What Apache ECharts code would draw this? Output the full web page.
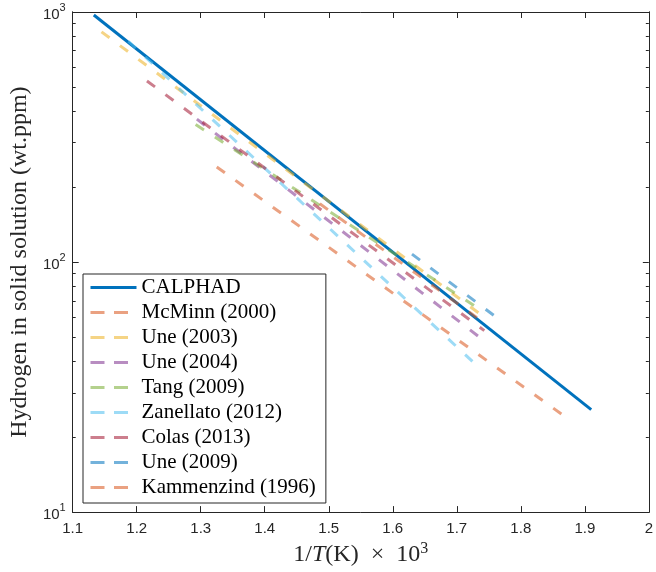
<!DOCTYPE html>
<html><head><meta charset="utf-8">
<script src="https://cdn.jsdelivr.net/npm/echarts@6/dist/echarts.min.js"></script>
<style>html,body{margin:0;padding:0;background:#fff}#c{width:656px;height:572px}</style>
</head><body><div id="c"></div>
<script>
// ---- data ----
const xTickValues = [1.1, 1.2, 1.3, 1.4, 1.5, 1.6, 1.7, 1.8, 1.9, 2.0];
const xTickLabels = ['1.1', '1.2', '1.3', '1.4', '1.5', '1.6', '1.7', '1.8', '1.9', '2'];
const yTickValues = [10, 100, 1000];
const yTickExponents = ['1', '2', '3'];
const yMinorTickValues = [20, 30, 40, 50, 60, 70, 80, 90, 200, 300, 400, 500, 600, 700, 800, 900];

const seriesNames = ['CALPHAD', 'McMinn (2000)', 'Une (2003)', 'Une (2004)', 'Tang (2009)',
  'Zanellato (2012)', 'Colas (2013)', 'Une (2009)', 'Kammenzind (1996)'];
// end points of each line: [1/T(K) x 10^3, wt.ppm]
const calphad = [[1.133, 973], [1.910, 25.7]];
const mcminn2000 = [[1.325, 240], [1.870, 24.0]];
const une2003 = [[1.145, 833], [1.743, 60.2]];
const une2004 = [[1.294, 373], [1.734, 50.4]];
const tang2009 = [[1.292, 355], [1.744, 62.8]];
const zanellato2012 = [[1.187, 764], [1.734, 38.0]];
const colas2013 = [[1.216, 530], [1.743, 53.2]];
const une2009 = [[1.630, 107.6], [1.769, 58.3]];
const kammenzind1996 = [[1.486, 171], [1.744, 56.8]];

const seriesData = [calphad, mcminn2000, une2003, une2004, tang2009, zanellato2012, colas2013, une2009, kammenzind1996];

// ---- style ----
const A = 0.55;
const colors = ['#0072BD', `rgba(217,83,25,${A})`, `rgba(237,177,32,${A})`, `rgba(126,47,142,${A})`,
  `rgba(119,172,48,${A})`, `rgba(77,190,238,${A})`, `rgba(162,20,47,${A})`, `rgba(0,114,189,${A})`,
  `rgba(217,83,25,${A})`];
const axisColor = '#262626';
const sans = 'Liberation Sans';
const serif = 'Liberation Serif';

const chart = echarts.init(document.getElementById('c'), null, {renderer: 'canvas'});

const series = seriesData.map((d, i) => ({
  type: 'line',
  name: seriesNames[i],
  data: d,
  symbol: 'none',
  showSymbol: false,
  silent: true,
  animation: false,
  emphasis: {disabled: true},
  itemStyle: {color: colors[i]},
  lineStyle: {color: colors[i], width: 3, type: i === 0 ? 'solid' : [10, 13], cap: 'butt'}
}));

const legendData = seriesNames.map((n, i) => ({
  name: n,
  lineStyle: {width: 3, type: i === 0 ? 'solid' : [14, 9.5], cap: 'butt'}
}));

const baseX = {
  type: 'value', min: 1.1, max: 2.0, interval: 0.1,
  splitLine: {show: false},
  axisLine: {show: true, onZero: false, lineStyle: {color: axisColor, width: 1}},
};
const baseY = {
  type: 'log', logBase: 10, min: 10, max: 1000,
  splitLine: {show: false},
  minorTick: {show: false},
  axisLine: {show: true, onZero: false, lineStyle: {color: axisColor, width: 1}},
};

const option = {
  animation: false,
  backgroundColor: '#fff',
  grid: {left: 70.5, right: 4, top: 12, bottom: 56, containLabel: false},
  xAxis: [
    Object.assign({}, baseX, {
      position: 'bottom',
      axisTick: {show: true, inside: true, length: 6, lineStyle: {color: axisColor}, customValues: xTickValues},
      axisLabel: {
        show: true, margin: 9, color: axisColor, fontFamily: sans, fontSize: 15,
        customValues: xTickValues,
        formatter: v => {
          let best = 0;
          xTickValues.forEach((t, k) => { if (Math.abs(t - v) < Math.abs(xTickValues[best] - v)) best = k; });
          return xTickLabels[best];
        }
      },
      name: '{a|1/}{i|T}{a|(K)  ×  10}{s|3}',
      nameLocation: 'middle',
      nameGap: 21,
      nameTextStyle: {
        color: axisColor,
        rich: {
          a: {fontFamily: serif, fontSize: 24, color: axisColor, lineHeight: 28},
          i: {fontFamily: serif, fontStyle: 'italic', fontSize: 24, color: axisColor, lineHeight: 28},
          s: {fontFamily: serif, fontSize: 16, color: axisColor, verticalAlign: 'top', lineHeight: 14}
        }
      }
    }),
    Object.assign({}, baseX, {
      position: 'top',
      axisTick: {show: true, inside: true, length: 6, lineStyle: {color: axisColor}, customValues: xTickValues},
      axisLabel: {show: false}
    })
  ],
  yAxis: [
    Object.assign({}, baseY, {
      position: 'left',
      axisTick: {show: true, inside: true, length: 6, lineStyle: {color: axisColor}, customValues: yTickValues},
      axisLabel: {
        show: true, margin: 7, customValues: yTickValues,
        formatter: v => {
          let best = 0;
          yTickValues.forEach((t, k) => { if (Math.abs(Math.log10(t) - Math.log10(v)) < Math.abs(Math.log10(yTickValues[best]) - Math.log10(v))) best = k; });
          return '{b|10}{s|' + yTickExponents[best] + '}';
        },
        rich: {
          b: {fontFamily: sans, fontSize: 15, color: axisColor, lineHeight: 20, verticalAlign: 'bottom'},
          s: {fontFamily: sans, fontSize: 11, color: axisColor, lineHeight: 12, verticalAlign: 'top'}
        }
      },
      name: 'Hydrogen in solid solution (wt.ppm)',
      nameLocation: 'middle',
      nameGap: 38,
      nameTextStyle: {fontFamily: serif, fontSize: 24, color: axisColor}
    }),
    Object.assign({}, baseY, {
      position: 'left',
      axisTick: {show: true, inside: true, length: 3, lineStyle: {color: axisColor}, customValues: yMinorTickValues},
      axisLabel: {show: false}
    }),
    Object.assign({}, baseY, {
      position: 'right',
      axisTick: {show: true, inside: true, length: 6, lineStyle: {color: axisColor}, customValues: yTickValues},
      axisLabel: {show: false}
    }),
    Object.assign({}, baseY, {
      position: 'right',
      axisTick: {show: true, inside: true, length: 3, lineStyle: {color: axisColor}, customValues: yMinorTickValues},
      axisLabel: {show: false}
    })
  ],
  legend: {
    orient: 'vertical',
    left: 83, top: 274,
    padding: [1, 10, 3, 6],
    itemGap: 0,
    itemWidth: 46,
    itemHeight: 14,
    backgroundColor: '#fff',
    borderColor: axisColor,
    borderWidth: 1,
    borderRadius: 0,
    selectedMode: false,
    itemStyle: {opacity: 0, color: 'rgba(0,0,0,0)', borderWidth: 0, borderColor: 'rgba(0,0,0,0)'},
    textStyle: {fontFamily: serif, fontSize: 21, color: '#000', lineHeight: 25},
    data: legendData
  },
  series: series
};
chart.setOption(option);
</script>
</body></html>
